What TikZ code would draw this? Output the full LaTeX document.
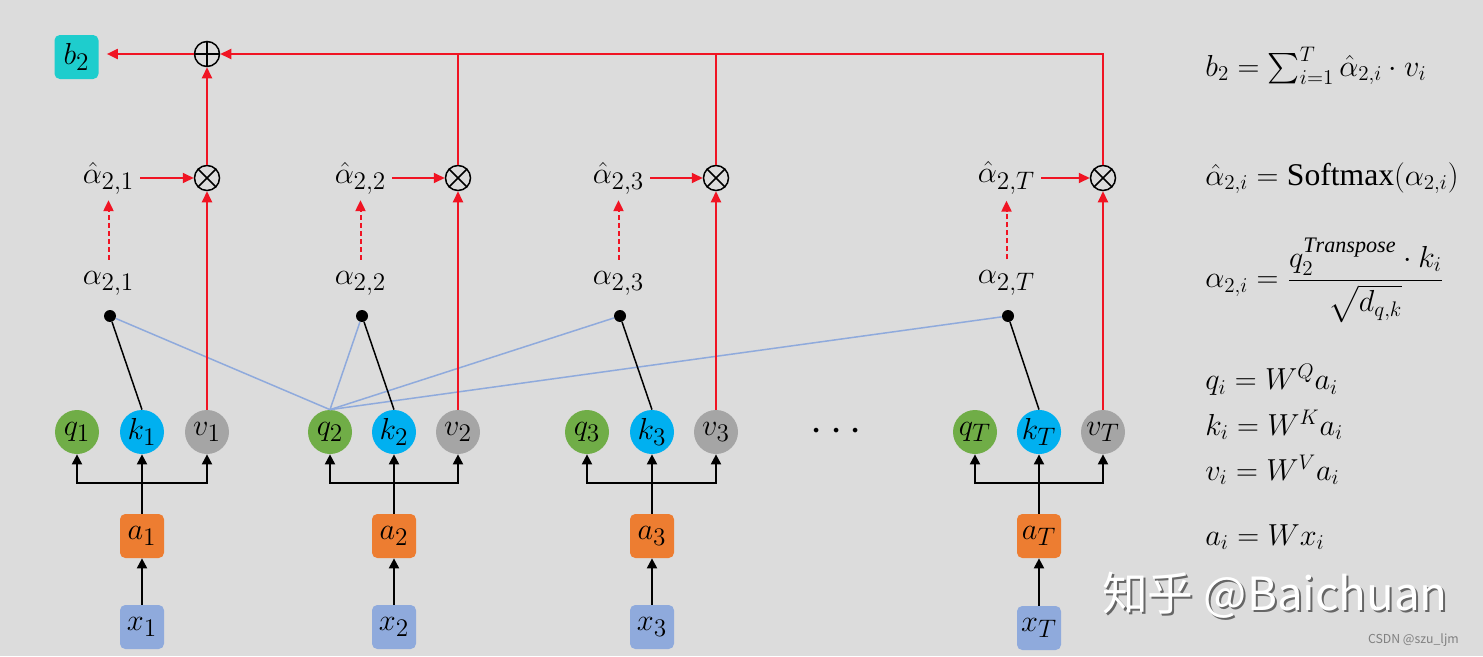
\documentclass[tikz,border=0pt]{standalone}
\usepackage{amsmath}
\usepackage{fontspec}
\setmainfont{Liberation Serif}
\newfontfamily\cjk{Noto Sans CJK SC}
\usetikzlibrary{arrows.meta}
\definecolor{bgGray}{RGB}{220,220,220}
\definecolor{bTeal}{RGB}{30,205,205}
\definecolor{qGreen}{RGB}{112,173,71}
\definecolor{kBlue}{RGB}{0,176,240}
\definecolor{vGray}{RGB}{165,165,165}
\definecolor{aOrange}{RGB}{237,125,49}
\definecolor{xBlue}{RGB}{143,170,220}
\definecolor{lineBlue}{RGB}{143,170,220}
\definecolor{arrowRed}{RGB}{240,20,35}
\begin{document}
\begin{tikzpicture}[
    every node/.style={font=\fontsize{19}{23}\selectfont},
    circ/.style={circle, minimum size=0.88cm, inner sep=0pt},
    qcirc/.style={circ, fill=qGreen},
    kcirc/.style={circ, fill=kBlue},
    vcirc/.style={circ, fill=vGray},
    boxnode/.style={rounded corners=3pt, minimum width=0.88cm, minimum height=0.88cm, inner sep=0pt},
    dotnode/.style={circle, fill=black, minimum size=0.24cm, inner sep=0pt},
    opnode/.style={circle, draw, line width=0.03cm, minimum size=0.5cm, inner sep=0pt},
    blkarrow/.style={line width=0.04cm, -{Triangle[length=0.2cm,width=0.2cm]}},
    redline/.style={line width=0.04cm, color=arrowRed},
    redarrow/.style={redline, -{Triangle[length=0.22cm,width=0.2cm]}},
    bluelink/.style={line width=0.03cm, color=lineBlue},
    eqnode/.style={anchor=west, inner sep=0pt, font=\fontsize{18}{22}\selectfont},
]
% \clip (0,0) rectangle (29.66,13.12);
\fill [bgGray] (0,0) rectangle (29.66,13.12);
\useasboundingbox (0,0) rectangle (29.66,13.12);

% Output node and sum
\node [boxnode, fill=bTeal] (b2) at (1.53,11.98) {$b_2$};
\node [opnode] (oplus) at (4.14,12.04) {};
\draw [line width=0.03cm] (oplus.north) -- (oplus.south);%
\draw [line width=0.03cm] (oplus.west) -- (oplus.east);%

% Products
\node [opnode] (ot1) at (4.14,9.56) {};
\node [opnode] (ot2) at (9.16,9.56) {};
\node [opnode] (ot3) at (14.32,9.56) {};
\node [opnode] (otT) at (22.06,9.56) {};
\draw [line width=0.03cm] (ot1.north east) -- (ot1.south west) (ot1.north west) -- (ot1.south east);%
\draw [line width=0.03cm] (ot2.north east) -- (ot2.south west) (ot2.north west) -- (ot2.south east);%
\draw [line width=0.03cm] (ot3.north east) -- (ot3.south west) (ot3.north west) -- (ot3.south east);%
\draw [line width=0.03cm] (otT.north east) -- (otT.south west) (otT.north west) -- (otT.south east);%

% Attention weights
\node (h1) at (2.17,9.56) {$\hat{\alpha}_{2,1}$};
\node (h2) at (7.21,9.56) {$\hat{\alpha}_{2,2}$};
\node (h3) at (12.37,9.56) {$\hat{\alpha}_{2,3}$};
\node (hT) at (20.13,9.56) {$\hat{\alpha}_{2,T}$};
\node (al1) at (2.17,7.46) {$\alpha_{2,1}$};
\node (al2) at (7.21,7.46) {$\alpha_{2,2}$};
\node (al3) at (12.37,7.46) {$\alpha_{2,3}$};
\node (alT) at (20.13,7.46) {$\alpha_{2,T}$};

% Dot product points
\node [dotnode] (d1) at (2.2,6.8) {};
\node [dotnode] (d2) at (7.24,6.8) {};
\node [dotnode] (d3) at (12.4,6.8) {};
\node [dotnode] (dT) at (20.16,6.8) {};

% Query, key, value
\node [qcirc] (q1) at (1.54,4.48) {$q_1$};
\node [kcirc] (k1) at (2.84,4.48) {$k_1$};
\node [vcirc] (v1) at (4.14,4.48) {$v_1$};
\node [qcirc] (q2) at (6.6,4.48) {$q_2$};
\node [kcirc] (k2) at (7.88,4.48) {$k_2$};
\node [vcirc] (v2) at (9.16,4.48) {$v_2$};
\node [qcirc] (q3) at (11.74,4.48) {$q_3$};
\node [kcirc] (k3) at (13.04,4.48) {$k_3$};
\node [vcirc] (v3) at (14.32,4.48) {$v_3$};
\node [qcirc] (qT) at (19.5,4.48) {$q_T$};
\node [kcirc] (kT) at (20.78,4.48) {$k_T$};
\node [vcirc] (vT) at (22.06,4.48) {$v_T$};
\node (dots) at (16.8,4.48) {\fontsize{30}{30}\selectfont$\cdots$};

% Inputs
\node [boxnode, fill=aOrange] (a1) at (2.84,2.4) {$a_1$};
\node [boxnode, fill=aOrange] (a2) at (7.88,2.4) {$a_2$};
\node [boxnode, fill=aOrange] (a3) at (13.04,2.4) {$a_3$};
\node [boxnode, fill=aOrange] (aT) at (20.78,2.4) {$a_T$};
\node [boxnode, fill=xBlue] (x1) at (2.84,0.58) {$x_1$};
\node [boxnode, fill=xBlue] (x2) at (7.88,0.58) {$x_2$};
\node [boxnode, fill=xBlue] (x3) at (13.04,0.58) {$x_3$};
\node [boxnode, fill=xBlue] (xT) at (20.78,0.56) {$x_T$};
\coordinate (bar1) at (2.84,3.46);
\coordinate (bar2) at (7.88,3.46);
\coordinate (bar3) at (13.04,3.46);
\coordinate (barT) at (20.78,3.46);

% Drawing input branches
\draw [blkarrow] (x1) -- (a1);%
\draw [blkarrow] (a1) -- (k1);%
\draw [blkarrow] (bar1) -| (q1);%
\draw [blkarrow] (bar1) -| (v1);%
\draw [blkarrow] (x2) -- (a2);%
\draw [blkarrow] (a2) -- (k2);%
\draw [blkarrow] (bar2) -| (q2);%
\draw [blkarrow] (bar2) -| (v2);%
\draw [blkarrow] (x3) -- (a3);%
\draw [blkarrow] (a3) -- (k3);%
\draw [blkarrow] (bar3) -| (q3);%
\draw [blkarrow] (bar3) -| (v3);%
\draw [blkarrow] (xT) -- (aT);%
\draw [blkarrow] (aT) -- (kT);%
\draw [blkarrow] (barT) -| (qT);%
\draw [blkarrow] (barT) -| (vT);%

% Drawing query-key links
\draw [bluelink] (q2.north) -- (d1);%
\draw [bluelink] (q2.north) -- (d2);%
\draw [bluelink] (q2.north) -- (d3);%
\draw [bluelink] (q2.north) -- (dT);%
\draw [line width=0.03cm] (d1) -- (k1.north);%
\draw [line width=0.03cm] (d2) -- (k2.north);%
\draw [line width=0.03cm] (d3) -- (k3.north);%
\draw [line width=0.03cm] (dT) -- (kT.north);%

% Drawing softmax and weighting
\draw [redarrow, dash pattern=on 0.1cm off 0.06cm, shorten <=0.1cm] (al1) -- (h1);%
\draw [redarrow, dash pattern=on 0.1cm off 0.06cm, shorten <=0.1cm] (al2) -- (h2);%
\draw [redarrow, dash pattern=on 0.1cm off 0.06cm, shorten <=0.1cm] (al3) -- (h3);%
\draw [redarrow, dash pattern=on 0.1cm off 0.06cm, shorten <=0.1cm] (alT) -- (hT);%
\draw [redarrow] (h1) -- (ot1);%
\draw [redarrow] (h2) -- (ot2);%
\draw [redarrow] (h3) -- (ot3);%
\draw [redarrow] (hT) -- (otT);%
\draw [redarrow] (v1) -- (ot1);%
\draw [redarrow] (v2) -- (ot2);%
\draw [redarrow] (v3) -- (ot3);%
\draw [redarrow] (vT) -- (otT);%

% Drawing the sum
\draw [redarrow] (ot1) -- (oplus);%
\draw [redline] (ot2) -- (ot2 |- oplus);%
\draw [redline] (ot3) -- (ot3 |- oplus);%
\draw [redarrow] (otT) |- (oplus);%
\draw [redarrow, shorten >=0.16cm] (oplus) -- (b2.east |- oplus);%

% Equations
\node [eqnode] (eqb) at (24.1,11.8) {$b_2=\textstyle\sum_{i=1}^{T}\hat{\alpha}_{2,i}\cdot v_i$};
\node [eqnode] (eqh) at (24.1,9.56) {$\hat{\alpha}_{2,i}=\textrm{Softmax}(\alpha_{2,i})$};
\node [eqnode] (eqal) at (24.1,7.52) {$\alpha_{2,i}=\dfrac{q_2^{\mathit{Transpose}}\cdot k_i}{\sqrt{d_{q,k}}}$};
\node [eqnode] (eqq) at (24.1,5.52) {$q_i=W^{Q}a_i$};
\node [eqnode] (eqk) at (24.1,4.62) {$k_i=W^{K}a_i$};
\node [eqnode] (eqv) at (24.1,3.72) {$v_i=W^{V}a_i$};
\node [eqnode] (eqa) at (24.1,2.38) {$a_i=Wx_i$};

% Watermarks
\node [text=gray!80!black] (wmshadow) at (25.54,1.18) {\cjk\fontsize{26}{28}\selectfont 知乎 @Baichuan};
\node [text=white] (wm) at (25.5,1.22) {\cjk\fontsize{26}{28}\selectfont 知乎 @Baichuan};
\node [text=gray, anchor=east] (csdn) at (29.3,0.32) {\cjk\fontsize{7}{8}\selectfont CSDN @szu\_ljm};
\end{tikzpicture}
\end{document}
